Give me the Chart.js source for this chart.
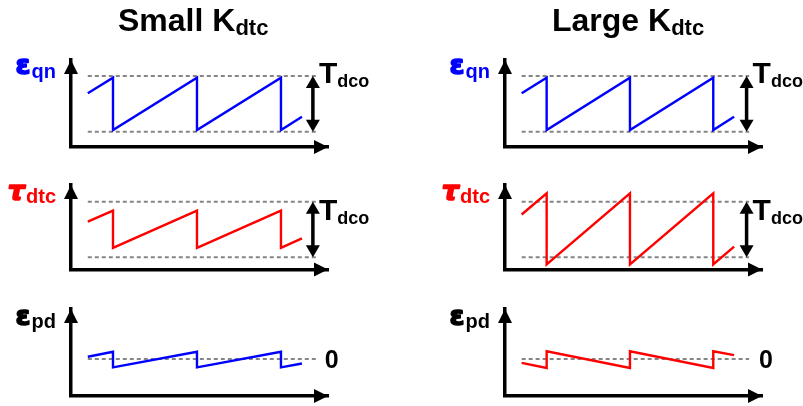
<!DOCTYPE html>
<html>
<head>
<meta charset="utf-8">
<script src="https://cdn.jsdelivr.net/npm/chart.js@4"></script>
<style>
  html, body { margin: 0; padding: 0; background: #fff; overflow: hidden; }
  #wrap { position: relative; width: 803px; height: 406px; }
  canvas { position: absolute; }
</style>
</head>
<body>
<div id="wrap">
  <canvas id="qnSmall" width="400" height="170" style="left:0;top:0"></canvas>
  <canvas id="qnLarge" width="403" height="170" style="left:400px;top:0"></canvas>
  <canvas id="dtcSmall" width="400" height="110" style="left:0;top:170px"></canvas>
  <canvas id="dtcLarge" width="403" height="110" style="left:400px;top:170px"></canvas>
  <canvas id="pdSmall" width="400" height="126" style="left:0;top:280px"></canvas>
  <canvas id="pdLarge" width="403" height="126" style="left:400px;top:280px"></canvas>
</div>
<script>
// time in DCO periods, amplitudes in units of T_dco
const tPoints   = [0.2, 0.5, 0.5, 1.5, 1.5, 2.5, 2.5, 2.75];
const eqnSmall  = [0.69, 0.97, 0.03, 0.97, 0.03, 0.97, 0.03, 0.27];
const eqnLarge  = [0.69, 0.97, 0.03, 0.97, 0.03, 0.97, 0.03, 0.27];
const tdtcSmall = [0.64, 0.84, 0.17, 0.84, 0.17, 0.84, 0.17, 0.34];
const tdtcLarge = [0.77, 1.15, -0.13, 1.15, -0.13, 1.15, -0.13, 0.19];
const epdSmall  = [0.04, 0.13, -0.15, 0.13, -0.15, 0.13, -0.15, -0.08];
const epdLarge  = [-0.07, -0.16, 0.14, -0.16, 0.14, -0.16, 0.14, 0.07];
const refSpan   = [0.2, 2.93];   // dashed guide lines, start/end time
const tdcoLevels = [0, 1];       // bottom / top of T_dco band
const zeroLevel = [0];
const titles = ['Small K', 'Large K'];
const titleSub = 'dtc';

const FONT = "'Liberation Sans', Arial, sans-serif";
const BLUE = '#0000ff', RED = '#ff0000';

function pts(ys) { return ys.map((y, i) => ({ x: tPoints[i], y: y })); }
function guide(y) {
  return { data: refSpan.map(x => ({ x: x, y: y })), borderColor: '#858585', borderWidth: 2,
           borderDash: [4, 3], pointRadius: 0 };
}

function head(ctx, x, y, dir, len, half) {
  ctx.beginPath();
  ctx.moveTo(x, y);
  if (dir === 'up') { ctx.lineTo(x - half, y + len); ctx.lineTo(x + half, y + len); }
  if (dir === 'down') { ctx.lineTo(x - half, y - len); ctx.lineTo(x + half, y - len); }
  if (dir === 'right') { ctx.lineTo(x - len, y - half); ctx.lineTo(x - len, y + half); }
  ctx.closePath();
  ctx.fill();
}

const decor = {
  id: 'decor',
  afterDraw(chart, args, o) {
    const ctx = chart.ctx, a = chart.chartArea;
    const xs = chart.scales.x, ys = chart.scales.y;
    ctx.save();
    ctx.fillStyle = '#000';
    ctx.strokeStyle = '#000';
    // axis arrow heads
    head(ctx, a.left, a.top, 'up', 14, 7);
    head(ctx, a.right, a.bottom, 'right', 14, 7);

    // T_dco double arrow
    if (o.tdco) {
      const x = xs.getPixelForValue(o.tdco.x);
      const yt = ys.getPixelForValue(tdcoLevels[1]), yb = ys.getPixelForValue(tdcoLevels[0]);
      ctx.lineWidth = 3.5;
      ctx.beginPath(); ctx.moveTo(x, yt + 8); ctx.lineTo(x, yb - 8); ctx.stroke();
      head(ctx, x, yt, 'up', 12, 7);
      head(ctx, x, yb, 'down', 12, 7);
      ctx.textAlign = 'left'; ctx.textBaseline = 'alphabetic';
      ctx.font = 'bold 30px ' + FONT;
      const tx = x + 6, ty = yt + o.tdco.dy;
      ctx.fillText('T', tx, ty);
      const tw = ctx.measureText('T').width;
      ctx.font = 'bold 18px ' + FONT;
      ctx.fillText('dco', tx + tw, ty + 4);
    }
    // zero label
    if (o.zero) {
      ctx.font = 'bold 25px ' + FONT;
      ctx.textAlign = 'left'; ctx.textBaseline = 'middle';
      ctx.fillText('0', xs.getPixelForValue(o.zero.x), ys.getPixelForValue(zeroLevel[0]) + 2);
    }
    // y label
    if (o.label) {
      const L = o.label;
      ctx.fillStyle = L.color;
      ctx.strokeStyle = L.color;
      ctx.textAlign = 'left'; ctx.textBaseline = 'alphabetic';
      ctx.font = L.mainFont;
      const mw = ctx.measureText(L.main).width;
      ctx.font = 'bold 20px ' + FONT;
      const sw = ctx.measureText(L.sub).width;
      const x0 = a.left - 16 - mw - sw;
      ctx.font = L.mainFont;
      ctx.lineWidth = 1.6;
      ctx.lineJoin = 'round';
      ctx.fillText(L.main, x0, a.top + L.dy);
      ctx.strokeText(L.main, x0, a.top + L.dy);
      ctx.font = 'bold 20px ' + FONT;
      ctx.fillText(L.sub, x0 + mw + 1, a.top + L.sdy);
    }
    // title
    if (o.title) {
      ctx.fillStyle = '#000';
      ctx.textAlign = 'left'; ctx.textBaseline = 'alphabetic';
      ctx.font = 'bold 32px ' + FONT;
      ctx.fillText(o.title.text, o.title.x, 31);
      const w = ctx.measureText(o.title.text).width;
      ctx.font = 'bold 22px ' + FONT;
      ctx.fillText(titleSub, o.title.x + w, 35);
    }
    ctx.restore();
  }
};

function makePanel(id, series, color, yMin, yMax, xMax, pad, guides, deco) {
  const datasets = [{ data: pts(series), borderColor: color, borderWidth: 2.4, pointRadius: 0, tension: 0 }];
  guides.forEach(g => datasets.push(guide(g)));
  return new Chart(document.getElementById(id), {
    type: 'line',
    data: { datasets: datasets },
    options: {
      responsive: false,
      animation: false,
      layout: { padding: pad },
      scales: {
        x: { type: 'linear', min: 0, max: xMax,
             grid: { display: false, drawTicks: false }, ticks: { display: false },
             border: { display: true, color: '#000', width: 3.5 } },
        y: { type: 'linear', min: yMin, max: yMax,
             grid: { display: false, drawTicks: false }, ticks: { display: false },
             border: { display: true, color: '#000', width: 3.5 } }
      },
      plugins: { legend: { display: false }, tooltip: { enabled: false }, decor: deco }
    },
    plugins: [decor]
  });
}

const epsFont = "bold 27px 'DejaVu Sans', sans-serif";
const tauFont = "bold oblique 27px 'DejaVu Sans', sans-serif";

makePanel('qnSmall', eqnSmall, BLUE, -0.275, 1.287, 3.06,
  { left: 71, right: 72, top: 60, bottom: 23 }, tdcoLevels,
  { tdco: { x: 2.88, dy: 7 }, label: { main: 'ε', sub: 'qn', color: BLUE, mainFont: epsFont, dy: 14, sdy: 18 },
    title: { text: titles[0], x: 118 } });
makePanel('qnLarge', eqnLarge, BLUE, -0.275, 1.287, 3.085,
  { left: 105, right: 41, top: 60, bottom: 23 }, tdcoLevels,
  { tdco: { x: 2.9, dy: 7 }, label: { main: 'ε', sub: 'qn', color: BLUE, mainFont: epsFont, dy: 14, sdy: 18 },
    title: { text: titles[1], x: 152 } });
makePanel('dtcSmall', tdtcSmall, RED, -0.22, 1.30, 3.06,
  { left: 71, right: 72, top: 15, bottom: 10.5 }, tdcoLevels,
  { tdco: { x: 2.88, dy: 18 }, label: { main: 'τ', sub: 'dtc', color: RED, mainFont: tauFont, dy: 15, sdy: 18 } });
makePanel('dtcLarge', tdtcLarge, RED, -0.22, 1.30, 3.085,
  { left: 105, right: 41, top: 15, bottom: 10.5 }, tdcoLevels,
  { tdco: { x: 2.9, dy: 18 }, label: { main: 'τ', sub: 'dtc', color: RED, mainFont: tauFont, dy: 15, sdy: 18 } });
makePanel('pdSmall', epdSmall, BLUE, -0.664, 0.898, 3.06,
  { left: 71, right: 72, top: 29, bottom: 10 }, zeroLevel,
  { zero: { x: 3.02 }, label: { main: 'ε', sub: 'pd', color: '#000', mainFont: epsFont, dy: 16, sdy: 19 } });
makePanel('pdLarge', epdLarge, RED, -0.664, 0.898, 3.085,
  { left: 105, right: 41, top: 29, bottom: 10 }, zeroLevel,
  { zero: { x: 3.05 }, label: { main: 'ε', sub: 'pd', color: '#000', mainFont: epsFont, dy: 16, sdy: 19 } });
</script>
</body>
</html>
